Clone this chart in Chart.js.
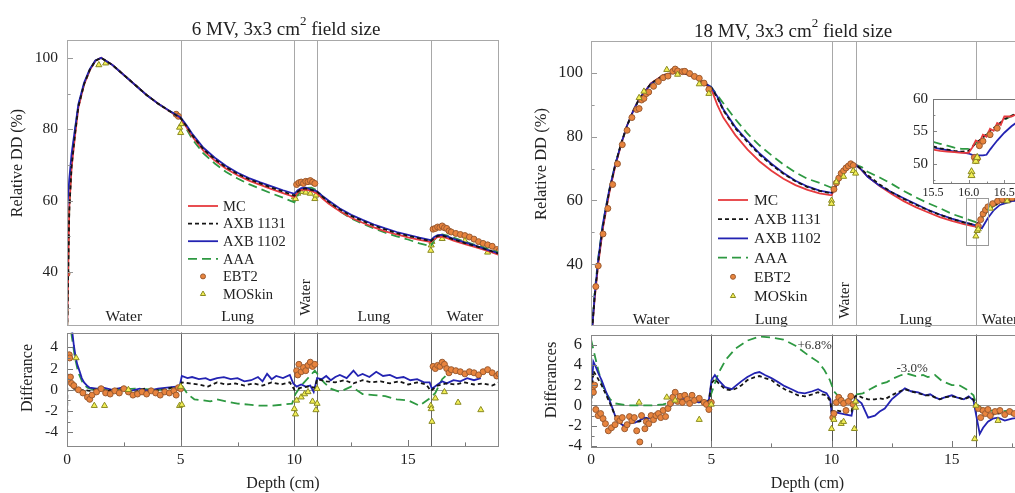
<!DOCTYPE html>
<html><head><meta charset="utf-8">
<script src="https://cdn.jsdelivr.net/npm/chart.js@4.4.1/dist/chart.umd.min.js"></script>
<style>
html,body{margin:0;padding:0;width:1015px;height:493px;overflow:hidden;background:#fff;}
canvas{position:absolute;}
.ttl{position:absolute;font-family:'Liberation Serif',serif;font-size:19px;color:#222;white-space:nowrap;transform:translate(-50%,-50%);line-height:1;}
.ttl sup{font-size:13px;position:relative;top:-10px;vertical-align:baseline;}
</style></head><body>
<canvas id="lt" width="505" height="330" style="left:0;top:0"></canvas>
<canvas id="lb" width="505" height="165" style="left:0;top:328px"></canvas>
<canvas id="rt" width="540" height="330" style="left:505px;top:0"></canvas>
<canvas id="rb" width="540" height="163" style="left:505px;top:330px"></canvas>
<canvas id="ins" width="150" height="115" style="left:895px;top:90px"></canvas>
<div class="ttl" style="left:286px;top:28px">6 MV, 3x3 cm<sup>2</sup> field size</div>
<div class="ttl" style="left:793px;top:30px">18 MV, 3x3 cm<sup>2</sup> field size</div>
<script>
// ---------- 6 MV depth dose ----------
const depth6 = [0,0.1,0.2,0.35,0.5,0.75,1,1.25,1.5,2,2.5,3,3.5,4,4.5,5,5.25,5.5,6,6.5,7,7.5,8,8.5,9,9.5,10,10.15,10.3,10.5,10.75,11,11.25,11.5,12,12.5,13,13.5,14,14.5,15,15.5,16,16.15,16.3,16.5,16.75,17,17.5,18,18.5,19];
const mc6 = [20,58,69,78,86,92.5,96.5,99.2,100,98,95.2,92.4,89.6,87.2,85.1,83,80.6,78,74,71.2,68.9,67.1,65.6,64.4,63.2,62.1,61.0,62.2,63.0,63.1,62.7,62.0,60.5,59.2,57.0,55.2,53.8,52.5,51.4,50.5,49.7,49.0,48.4,49.2,49.8,49.9,49.4,48.8,47.8,46.9,45.9,44.8];
const axb1131_6 = [20,57,69.5,78.5,86.3,92.6,96.6,99.2,100,98,95.2,92.4,89.6,87.2,85.1,83.1,80.9,78.4,74.4,71.6,69.3,67.5,66,64.8,63.6,62.5,61.4,62.5,63.2,63.4,63,62.5,61,59.7,57.5,55.7,54.3,53,51.9,50.9,50.1,49.4,48.6,49.5,50.1,50.2,49.7,49.1,48.1,47.2,46.2,45.1];
const axb1102_6 = [57,66,73,80,87,93,96.8,99.3,100,98,95.2,92.4,89.6,87.2,85.2,83.3,81.2,78.8,74.8,72,69.7,67.8,66.3,65.1,64,62.9,61.9,62.9,63.5,63.6,63.1,62.6,61.2,60,57.8,56,54.6,53.3,52.2,51.2,50.4,49.6,48.9,49.8,50.3,50.4,49.9,49.3,48.3,47.3,46.2,45.2];
const aaa6 = [20,58,71,79.5,86.5,92.5,96.5,99.2,100,98,95.2,92.4,89.6,87.2,85.1,83.2,80.2,77.3,73.2,70.4,68,66.2,64.6,63.3,62,60.8,59.5,61.5,63,63.5,63.6,62.8,61,59.4,57,55,53.5,52.2,51,50,49.1,48,47.2,49,50,50.5,50.2,49.6,48.5,47.5,46.5,45.5];
const ebt6X = [0,4.8,4.9,10.1,10.2,10.3,10.4,10.5,10.6,10.7,10.8,10.9,16.1,16.2,16.3,16.4,16.5,16.6,16.7,16.8,16.9,17.1,17.3,17.5,17.7,17.9,18.1,18.3,18.5,18.7,18.9,19.0];
const ebt6Y = [39.5,84.2,83.6,64.5,65,65.2,64.8,65.4,65.3,65.6,65.2,64.8,52,52.2,52.6,52.5,52.9,52.4,52.2,51.5,51.2,50.8,50.5,50.2,49.8,49.2,48.5,48,47.6,47.2,46.3,45.8];
const mos6X = [1.4,1.7,4.95,5.0,5.05,10.0,10.05,10.15,10.3,10.5,10.7,10.9,10.95,16.0,16.02,16.05,16.5,17.5,18.5];
const mos6Y = [98,98.5,80.5,79,81.5,61,60.5,62,62.5,62.3,62,60.5,61.5,46,47.5,48.5,49.3,48.7,45.5];
// ---------- 6 MV differences ----------
const blue6dX = [0.15,0.23,0.3,0.38,0.45,0.53,0.65,0.75,0.9,1.0,1.3,1.6,2.0,2.4,2.8,3.2,3.6,4.0,4.4,4.8,4.95,5.05,5.3,5.5,5.8,6.1,6.3,6.6,6.9,7.2,7.5,7.8,8.1,8.4,8.6,8.8,9.0,9.2,9.5,9.8,9.95,10.1,10.3,10.5,10.7,10.85,11.0,11.2,11.4,11.6,11.8,12.0,12.3,12.6,12.8,13.0,13.3,13.6,13.9,14.2,14.5,14.8,15.1,15.4,15.7,15.95,16.05,16.3,16.5,16.7,17.0,17.3,17.6,17.9,18.2];
const blue6dY = [8,5.5,4.2,3.1,2.4,1.9,1.1,0.7,0.35,0.2,0.1,0.2,0.0,0.2,-0.1,0.1,-0.1,0.1,0.2,0.3,0.3,1.3,1.1,1.2,1.0,1.1,0.9,1.1,1.2,1.0,1.1,0.8,0.9,1.2,0.8,1.5,1.0,1.3,1.1,1.4,0.6,0.3,0.5,0.3,0.4,-0.2,1.1,1.0,1.3,0.9,1.2,1.4,1.1,1.8,1.3,1.5,1.2,1.7,1.3,1.4,1.1,1.2,0.9,1.0,0.7,0.7,0.1,0.5,0.8,0.6,0.9,0.8,1.1,0.9,1.1];
const black6dX = [0,0.02,0.08,0.15,0.3,0.6,1.0,1.4,1.8,2.2,2.6,3.0,3.4,3.8,4.2,4.6,4.95,5.05,5.4,5.8,6.2,6.6,7.0,7.4,7.8,8.2,8.6,9.0,9.4,9.8,10.0,10.3,10.6,10.9,11.0,11.4,11.8,12.2,12.6,13.0,13.4,13.8,14.2,14.6,15.0,15.4,15.8,16.0,16.3,16.7,17.1,17.5,17.9,18.3,18.7,19.0];
const black6dY = [-4.8,1.6,1.2,0.6,0.1,0.0,-0.1,0.1,-0.1,0.1,0.0,-0.2,0.1,-0.1,0.0,0.2,0.3,0.7,0.6,0.5,0.3,0.7,0.5,0.6,0.4,0.6,0.4,0.7,0.5,0.7,0.0,0.2,0.3,0.2,1.0,0.8,0.7,0.9,0.6,0.9,0.7,0.8,0.6,0.8,0.5,0.7,0.5,-0.1,0.4,0.6,0.5,0.7,0.5,0.6,0.4,0.7];
const green6dX = [0.05,0.2,0.35,0.5,0.7,0.9,1.2,2.0,3.0,4.0,4.9,5.05,5.3,5.6,6.0,6.3,6.6,7.0,7.5,8.0,8.5,9.0,9.5,9.9,10.05,10.3,10.6,10.9,11.05,11.3,11.6,12.0,12.5,13.0,13.5,14.0,14.5,15.0,15.5,15.9,16.2,16.5,16.9];
const green6dY = [8,5.2,3.0,1.6,0.6,0.2,0.0,0.0,0.1,0.0,0.2,0.4,-0.4,-0.9,-1.0,-1.1,-0.9,-1.1,-1.3,-1.4,-1.5,-1.5,-1.4,-1.3,-0.4,0.4,1.1,1.8,1.4,0.7,0.1,-0.2,0.3,-0.4,-0.5,-0.6,-0.9,-1.0,-1.5,-0.9,-0.3,1.0,1.8];
const ebt6dX = [0.05,0.1,0.12,0.15,0.2,0.3,0.5,0.7,0.9,1.0,1.1,1.3,1.5,1.7,1.9,2.1,2.3,2.5,2.7,2.9,3.1,3.3,3.5,3.7,3.9,4.1,4.3,4.5,4.7,4.8,4.9,5.0,10.1,10.15,10.2,10.3,10.4,10.5,10.6,10.7,10.8,10.9,16.1,16.2,16.3,16.4,16.5,16.6,16.7,16.8,16.9,17.1,17.3,17.5,17.7,17.9,18.1,18.3,18.5,18.7,18.9,19.0];
const ebt6dY = [1.0,3.3,3.0,1.2,0.6,0.4,0.0,-0.3,-0.7,-0.9,-0.5,-0.2,0.1,-0.3,-0.4,-0.1,-0.3,0.1,-0.2,-0.5,-0.4,-0.2,-0.4,-0.1,-0.3,-0.5,-0.2,-0.3,-0.1,-0.5,0.2,0.1,1.8,1.4,2.4,1.7,2.1,1.8,2.3,2.6,2.2,2.4,2.2,2.0,2.3,2.2,2.6,2.4,2.0,1.6,1.9,1.8,1.7,1.5,1.7,1.6,1.4,1.7,1.9,1.6,1.3,1.5];
const mos6dX = [0.4,1.2,1.65,2.7,4.95,5.0,5.05,10.0,10.05,10.1,10.3,10.45,10.6,10.8,10.95,11.0,11.0,16.0,16.02,16.05,16.2,16.6,17.2,18.2];
const mos6dY = [3.0,-1.5,-1.5,0.0,-1.5,0.3,-1.4,-1.8,-2.3,-1.0,-0.7,-0.4,-0.2,-1.1,-1.9,-1.3,0.1,-1.5,-1.8,-3.0,-0.8,-0.2,-1.2,-1.9];
// ---------- 18 MV depth dose ----------
const depth18 = [0,0.15,0.3,0.5,0.75,1,1.25,1.5,1.75,2,2.5,3,3.5,4,4.5,5,5.25,5.5,6,6.5,7,7.5,8,8.5,9,9.5,10,10.25,10.5,10.75,11,11.25,11.5,12,12.5,13,13.5,14,14.5,15,15.5,16,16.25,16.5,16.75,17,17.5,18];
const mc18 = [15,29,40,51.5,62,70.5,77.5,83.5,88,91.8,96.8,99.3,100.2,99.5,97.8,95,90,86,80.5,76,72.3,69.3,66.8,64.8,63.3,62.2,61.6,65.5,69,71,71.3,69.5,67.5,64.5,62,59.8,57.9,56.3,54.8,53.6,52.6,51.8,55,57.3,58.8,59.6,60.4,60.5];
const axb1131_18 = [15,29.5,40.5,52,62.5,71,77.8,83.5,88,91.8,96.7,99.2,100.2,99.6,97.9,95.3,92.3,88.3,82.6,78.4,74.4,71.2,68.4,66,64.2,63,62.2,65.8,69.2,71,71.2,69.8,67.9,65,62.6,60.5,58.7,57,55.5,54.2,53.1,52.3,54.5,57,58.5,59.3,60.1,60.3];
const axb1102_18 = [15,30,41.5,53,63,71,77.8,83.5,88,91.8,96.6,99.1,100.2,99.6,98,95.5,92.6,88.6,83,78.8,74.8,71.5,68.6,66.2,64.4,63.1,62.4,65.2,68.8,70.8,71.2,69.6,67.4,64.6,62.6,60.7,58.9,57.1,55.6,54.3,53.2,52.2,51.3,54.5,57,58.6,59.8,60.1];
const aaa18 = [15,31,42,53,63,71,77.6,83.4,88,91.8,96.7,99.3,100.3,99.8,98.1,95.5,93,90.5,85.5,81,77.3,74.2,71.3,68.8,66.8,65.5,64.0,66.5,69.5,71,71.2,70.5,69,67.2,65.2,63.0,61.0,59.2,57.6,55.8,54.5,53.2,54.5,56.8,58.3,59.2,60,60.3];
const ebt18X = [0.2,0.3,0.5,0.7,0.9,1.1,1.3,1.5,1.7,1.9,2.0,2.1,2.2,2.3,2.4,2.6,2.8,3.0,3.2,3.4,3.5,3.6,3.8,3.9,4.1,4.3,4.5,4.7,4.9,10.1,10.2,10.3,10.4,10.5,10.6,10.7,10.8,10.9,16.1,16.2,16.3,16.4,16.5,16.7,16.9,17.1,17.3,17.5];
const ebt18Y = [33,39.5,49.5,57.5,65,71.5,77.5,82,86,88.5,88.8,91.5,92,93.5,94,95.8,97.3,98.5,99,100.5,101.2,100.6,100.4,100.5,99.8,98.9,98.3,96.8,94.8,63.5,65.5,67,68.5,69.3,70.2,70.8,71.5,71,52,54,55.8,57,58,59,59.8,60.3,60.6,60.8];
const mos18X = [2.0,2.2,3.15,3.6,4.5,4.9,10.0,10.0,10.2,10.5,10.9,11.0,16.0,16.05,16.1,16.6,17.3];
const mos18Y = [92.2,94.2,101.0,99.5,96.5,93.5,60,59,65.8,67.5,69.3,68.5,48.8,50.5,51.0,57.5,59.8];
// ---------- 18 MV differences ----------
const diff18X = [0,0.05,0.1,0.2,0.3,0.44,0.6,0.79,1.0,1.15,1.34,1.5,1.83,2.0,2.24,2.45,2.66,2.85,3.07,3.3,3.49,3.7,3.9,4.1,4.3,4.46,4.7,4.9,5.01,5.15,5.3,5.57,5.85,6.05,6.26,6.5,6.81,7.0,7.23,7.5,7.78,8.05,8.34,8.6,8.89,9.2,9.44,9.6,9.79,9.95,10.0,10.2,10.42,10.6,10.83,10.97,11.1,11.25,11.52,11.8,12.0,12.21,12.5,12.75,13.05,13.3,13.6,13.9,14.1,14.3,14.5,14.7,15.0,15.2,15.5,15.7,15.9,15.95,16.16,16.3,16.5,16.7,16.92,17.2,17.5,17.8,18.0];
const blue18dY = [1.0,2.5,4.3,3.8,3.2,2.5,1.5,0.4,-1.0,-1.6,-2.0,-1.8,-1.7,-1.5,-1.2,-1.3,-0.9,-0.7,-0.5,-0.1,0.4,0.6,0.65,0.4,0.5,0.3,0.4,0.5,2.5,3.0,2.5,1.8,1.6,2.0,2.4,2.8,3.2,3.3,3.0,2.7,2.3,1.9,1.6,1.3,1.2,1.4,1.6,1.4,1.2,0.6,-0.8,-0.7,-0.8,-0.9,-1.0,0.7,0.5,0.2,-1.2,-1.0,-0.6,-0.3,0.6,1.1,1.7,1.4,1.3,1.0,1.1,0.8,0.6,0.8,1.0,0.8,0.6,0.9,0.5,-0.2,-2.8,-2.2,-1.6,-1.3,-1.2,-1.5,-1.3,-1.2,-1.1];
const black18dY = [0.0,1.5,3.4,3.0,2.6,2.0,1.2,0.2,-1.0,-1.5,-2.0,-1.9,-1.6,-1.6,-1.4,-1.1,-1.0,-0.8,-0.4,0.0,0.5,0.6,0.5,0.5,0.3,0.4,0.3,0.4,2.2,2.6,2.2,1.6,1.5,1.7,2.0,2.5,2.8,2.9,2.7,2.5,2.0,1.6,1.3,1.0,0.9,1.1,1.3,1.1,1.0,0.4,-0.6,-0.5,-0.6,-0.6,-0.6,0.9,1.0,0.8,0.6,0.6,0.7,0.6,1.0,1.3,1.6,1.4,1.2,1.0,1.0,0.8,0.6,0.8,0.9,0.8,0.6,0.8,0.6,0.0,-0.5,-0.8,-0.6,-0.9,-0.8,-0.7,-0.9,-0.7,-0.8];
const green18dX = [0,0.1,0.3,0.45,0.6,0.8,1.0,1.5,2.0,2.5,3.0,3.5,4.0,4.5,4.9,5.05,5.3,5.6,6.0,6.5,7.0,7.5,8.0,8.5,9.0,9.44,9.7,9.93,10.1,10.4,10.7,10.9,11.05,11.3,11.6,12.0,12.3,12.6,12.9,13.2,13.5,13.8,14.0,14.3,14.6,15.0,15.3,15.6,15.9,16.0,16.3,16.6,17.0,17.5,18.0];
const green18dY = [6.5,5.5,3.5,2.2,1.3,0.6,0.2,0.0,0.0,0.0,0.1,0.4,0.5,0.3,0.5,1.5,3.2,4.5,5.6,6.4,6.8,6.7,6.5,5.9,5.0,4.3,3.5,2.5,1.4,0.6,0.4,0.8,1.1,1.2,1.6,2.1,2.3,2.7,3.0,3.1,2.9,3.0,2.8,3.0,2.4,2.0,2.0,1.6,1.0,0.2,-0.4,-0.5,-0.6,-0.5,-0.5];
const ebt18dX = [0.05,0.1,0.15,0.2,0.3,0.4,0.5,0.6,0.72,0.85,1.0,1.1,1.2,1.3,1.4,1.5,1.6,1.7,1.8,1.9,2.03,2.1,2.24,2.3,2.4,2.5,2.6,2.7,2.8,2.9,3.0,3.1,3.2,3.3,3.4,3.5,3.6,3.7,3.8,3.9,4.0,4.1,4.2,4.3,4.5,4.7,4.8,4.9,5.0,10.05,10.1,10.2,10.3,10.4,10.5,10.6,10.7,10.8,10.9,16.1,16.2,16.3,16.4,16.5,16.6,16.8,17.0,17.2,17.4,17.6,17.8,18.0];
const ebt18dY = [1.6,1.3,2.0,-0.4,-1.0,-0.8,-1.3,-1.8,-2.5,-2.2,-1.9,-1.3,-1.5,-1.2,-2.3,-1.9,-1.1,-1.5,-1.2,-2.5,-3.6,-1.0,-2.3,-1.6,-1.8,-1.0,-1.4,-1.0,-0.8,-1.2,-0.5,-1.1,-0.3,0.2,0.8,1.3,0.4,0.9,0.3,1.0,0.6,0.2,1.0,0.5,0.7,0.3,0.1,-0.4,0.3,-1.2,-0.8,0.3,0.8,0.5,0.2,-0.5,0.4,0.9,0.1,-0.3,-1.2,-0.5,-0.8,-0.4,-1.0,-0.6,-0.5,-0.9,-0.6,-0.8,-0.6,-0.9];
const mos18dX = [2.0,3.15,3.5,4.5,5.0,10.0,10.1,10.4,10.5,10.95,11.0,11.0,15.95,16.0,16.92];
const mos18dY = [0.3,0.8,0.5,-1.4,0.1,-2.3,-1.4,-1.8,-1.6,-2.3,-0.2,0.4,-3.3,0.0,-1.5];
// ---------- 18 MV inset (15.5 - 17 cm) ----------
const insetDepth = [15.5,15.6,15.7,15.8,15.9,16.0,16.05,16.1,16.15,16.2,16.25,16.3,16.35,16.4,16.45,16.5,16.6,16.7,16.8,17.0];
const insetMC = [52.2,52.0,51.9,51.8,51.7,51.7,52.5,53.6,53.3,54.5,54.2,55.4,55.1,56.3,56.0,57.3,57.3,57.8,58.3,59.0];
const insetAXB1131 = [52.7,52.4,52.2,52.0,51.9,52.0,52.6,53.2,53.6,54.1,54.6,55.1,55.5,56.0,56.4,56.9,57.4,57.9,58.3,59.0];
const insetAXB1102 = [52.5,52.3,52.1,51.9,51.8,51.6,51.4,51.3,51.3,51.3,51.4,52.2,52.9,53.6,54.2,54.8,55.8,56.6,57.3,58.5];
const insetAAA = [53.4,53.1,52.8,52.5,52.3,52.3,52.7,53.2,53.6,54.0,54.5,55.0,55.4,55.9,56.3,56.8,57.4,57.9,58.3,59.0];
const insetEbtX = [16.08,16.1,16.12,16.15,16.2,16.3,16.4];
const insetEbtY = [51.0,50.5,50.8,52.8,53.5,54.5,55.5];
const insetMosX = [16.04,16.04,16.1,16.12];
const insetMosY = [48.8,48.2,50.4,51.0];
// ---------- tick labels ----------
const xTicks = [0,5,10,15];
const dd6Ticks = [40,60,80,100];
const diff6Ticks = [-4,-2,0,2,4];
const dd18Ticks = [40,60,80,100];
const diff18Ticks = [-4,-2,0,2,4,6];
const insetYTicks = [50,55,60];
const insetXTicks = [15.5,16.0,16.5];
const boundaries = [5,10,11,16];
const legendOrder = ['MC','AXB 1131','AXB 1102','AAA','EBT2','MOSkin'];

const FONT = "'Liberation Serif', serif";
Chart.defaults.font.family = FONT;
Chart.defaults.color = '#222';

const COL = {mc:'#e63a3e', a31:'#151515', a02:'#2323b2', aaa:'#2e9942', ebtF:'#e8843e', ebtE:'#9a5a30', mosF:'#f3ef55', mosE:'#8a8a22'};
function L(label, xs, ys, color, dash){
  return {label, data: xs.map((x,i)=>({x, y: ys[i]})), showLine:true, borderColor:color, backgroundColor:color,
    borderWidth:1.8, borderDash:dash||[], pointRadius:0, pointHoverRadius:0, fill:false, tension:0};
}
function P(label, xs, ys, style, r, fill, edge){
  return {label, data: xs.map((x,i)=>({x, y: ys[i]})), showLine:false, pointStyle:style, pointRadius:r,
    pointHoverRadius:r, backgroundColor:fill, borderColor:edge, pointBorderWidth:1, borderWidth:1};
}
const D31 = [4,3], DAAA = [9,5];

const DECO = {};
const decoPlugin = {
  id:'deco',
  beforeDraw(chart){
    const o = DECO[chart.canvas.id]; if (!o) return;
    const {ctx, chartArea:a} = chart;
    if (o.bg){ ctx.save(); ctx.fillStyle='#fff';
      ctx.fillRect(a.left, a.top, a.right-a.left, a.bottom-a.top);
      ctx.fillRect(a.left-2, a.bottom, a.right-a.left+2, 14); ctx.restore(); }
  },
  beforeDatasetsDraw(chart){
    const o = DECO[chart.canvas.id]; if (!o) return;
    const {ctx, chartArea:a, scales:{x,y}} = chart;
    ctx.save(); ctx.lineWidth = 1;
    if (o.zero){ ctx.strokeStyle=o.zero; const py=Math.round(y.getPixelForValue(0))+0.5;
      ctx.beginPath(); ctx.moveTo(a.left,py); ctx.lineTo(a.right,py); ctx.stroke(); }
    ctx.strokeStyle = o.vColor||'#999';
    (o.vlines||[]).forEach(v=>{ const px=Math.round(x.getPixelForValue(v))+0.5;
      ctx.beginPath(); ctx.moveTo(px,a.top); ctx.lineTo(px,a.bottom); ctx.stroke(); });
    if (o.regions){
      ctx.fillStyle='#222'; ctx.font = o.regionSize+'px '+FONT;
      o.regions.forEach(r=>{
        const px = x.getPixelForValue(r.x);
        if (r.rot){ ctx.save(); ctx.translate(px, a.bottom - o.rotDy); ctx.rotate(-Math.PI/2);
          ctx.textAlign='center'; ctx.textBaseline='middle'; ctx.fillText(r.t,0,0); ctx.restore(); }
        else { ctx.textAlign='center'; ctx.textBaseline='alphabetic'; ctx.fillText(r.t, px, a.bottom - o.regionDy); }
      });
    }
    ctx.restore();
  },
  afterDatasetsDraw(chart){
    const o = DECO[chart.canvas.id]; if (!o) return;
    const {ctx, chartArea:a, scales:{x,y}} = chart;
    ctx.save(); ctx.lineWidth=1;
    ctx.strokeStyle = o.tickColor||'#777';
    const tl = o.tl||6;
    const hy = (v,len)=>{ const py=Math.round(y.getPixelForValue(v))+0.5; ctx.beginPath(); ctx.moveTo(a.left,py); ctx.lineTo(a.left+len,py); ctx.stroke(); };
    const vx = (v,len)=>{ const px=Math.round(x.getPixelForValue(v))+0.5; ctx.beginPath(); ctx.moveTo(px,a.bottom); ctx.lineTo(px,a.bottom-len); ctx.stroke(); };
    (o.yMajor||[]).forEach(v=>hy(v,tl)); (o.yMinor||[]).forEach(v=>hy(v,tl*0.6));
    (o.xMajor||[]).forEach(v=>vx(v,tl)); (o.xMinor||[]).forEach(v=>vx(v,tl*0.6));
    ctx.strokeStyle = o.box||'#999';
    ctx.strokeRect(Math.round(a.left)+0.5, Math.round(a.top)+0.5, Math.round(a.right-a.left)-1, Math.round(a.bottom-a.top)-1);
    if (o.rect){ const r=o.rect; ctx.strokeStyle='#999';
      const x0=x.getPixelForValue(r.x0), x1=x.getPixelForValue(r.x1), y0=y.getPixelForValue(r.y0), y1=y.getPixelForValue(r.y1);
      ctx.strokeRect(Math.round(x0)+0.5, Math.round(y1)+0.5, Math.round(x1-x0), Math.round(y0-y1)); }
    (o.texts||[]).forEach(t=>{ ctx.fillStyle='#333'; ctx.font=t.size+'px '+FONT; ctx.textAlign='center'; ctx.textBaseline='middle';
      ctx.fillText(t.t, x.getPixelForValue(t.x), y.getPixelForValue(t.y)); });
    if (o.legend){
      const Lg=o.legend; ctx.font=Lg.size+'px '+FONT;
      legendOrder.forEach((lab,i)=>{
        const ds = chart.data.datasets.find(d=>d.label===lab); if(!ds) return;
        const yy = Lg.y0 + i*Lg.dy;
        if (ds.showLine){ ctx.save(); ctx.strokeStyle=ds.borderColor; ctx.lineWidth=ds.borderWidth; ctx.setLineDash(ds.borderDash||[]);
          ctx.beginPath(); ctx.moveTo(Lg.x0,yy); ctx.lineTo(Lg.x1,yy); ctx.stroke(); ctx.restore(); }
        else { ctx.save(); ctx.fillStyle=ds.backgroundColor; ctx.strokeStyle=ds.borderColor; ctx.lineWidth=1;
          Chart.helpers.drawPoint(ctx, {pointStyle:ds.pointStyle, radius:ds.pointRadius-0.5, rotation:0, borderWidth:1}, (Lg.x0+Lg.x1)/2, yy); ctx.restore(); }
        ctx.fillStyle='#222'; ctx.textAlign='left'; ctx.textBaseline='middle'; ctx.fillText(lab, Lg.tx, yy+1);
      });
    }
    if (o.ytitle){ const t=o.ytitle; ctx.save(); ctx.translate(t.x,t.y); ctx.rotate(-Math.PI/2);
      ctx.font=t.size+'px '+FONT; ctx.fillStyle='#222'; ctx.textAlign='center'; ctx.textBaseline='middle'; ctx.fillText(t.t,0,0); ctx.restore(); }
    ctx.restore();
  }
};

function noPad(s){ s.paddingTop=0; s.paddingBottom=0; s.paddingLeft=0; s.paddingRight=0; }
function make(id, c){
  return new Chart(document.getElementById(id), {
    type:'scatter',
    data:{datasets:c.datasets},
    options:{
      responsive:false, animation:false, devicePixelRatio:1,
      layout:{padding:c.pad},
      plugins:{legend:{display:false}, tooltip:{enabled:false}},
      scales:{
        x:{type:'linear', min:c.xmin, max:c.xmax, bounds:'data', display:c.showX,
           grid:{display:false, drawTicks:false}, border:{display:false},
           afterBuildTicks:s=>{ s.ticks=(c.xTicks||[]).map(v=>({value:v})); },
           afterFit:s=>{ s.height=c.xHeight||0; noPad(s); },
           ticks:{font:{size:c.xTickSize||15.5}, color:'#222', padding:c.xPad||5, maxRotation:0, autoSkip:false,
                  callback:v=> c.xFixed ? Number(v).toFixed(1) : String(v)},
           title:{display:!!c.xTitle, text:c.xTitle||'', font:{size:16}, color:'#222', padding:{top:0,bottom:0}}},
        y:{type:'linear', min:c.ymin, max:c.ymax, bounds:'data',
           grid:{display:false, drawTicks:false}, border:{display:false},
           afterBuildTicks:s=>{ s.ticks=c.yTicks.map(v=>({value:v})); },
           afterFit:s=>{ s.width=c.yWidth; noPad(s); },
           ticks:{font:{size:c.yTickSize||15.5}, color:'#222', padding:c.yPad||9, autoSkip:false, callback:v=>String(v)}}
      }
    },
    plugins:[decoPlugin]
  });
}

// ----- left top -----
DECO.lt = {box:'#a8a8a8', vlines:boundaries, vColor:'#a8a8a8', yMajor:[40,60,80,100], yMinor:[30,50,70,90], tl:6, tickColor:'#999',
  regions:[{t:'Water',x:2.5},{t:'Lung',x:7.5},{t:'Water',x:10.5,rot:true},{t:'Lung',x:13.5},{t:'Water',x:17.5}], regionSize:15.5, regionDy:5, rotDy:28,
  legend:{x0:188,x1:218,tx:223,y0:206,dy:17.6,size:14.5}, ytitle:{t:'Relative DD (%)',x:18,y:163,size:16}};
make('lt', {xmin:0,xmax:19,showX:false, ymin:25,ymax:105, yTicks:dd6Ticks, yWidth:67, yPad:9, yTickSize:15.5,
  pad:{top:40,right:6,bottom:2,left:0},
  datasets:[L('AXB 1131',depth6,axb1131_6,COL.a31,D31), L('AXB 1102',depth6,axb1102_6,COL.a02), L('MC',depth6,mc6,COL.mc), L('AAA',depth6,aaa6,COL.aaa,DAAA),
    P('MOSkin',mos6X,mos6Y,'triangle',3.5,COL.mosF,COL.mosE), P('EBT2',ebt6X,ebt6Y,'circle',3,COL.ebtF,COL.ebtE)]});

// ----- left bottom -----
DECO.lb = {box:'#888', zero:'#999', vlines:boundaries, vColor:'#666', yMajor:diff6Ticks, yMinor:[-3,-1,1,3], xMajor:xTicks, xMinor:[2.5,7.5,12.5,17.5], tl:6, tickColor:'#777',
  ytitle:{t:'Differance',x:28,y:50,size:16}};
make('lb', {xmin:0,xmax:19,showX:true, xTicks:xTicks, xHeight:47, xPad:5, xTitle:'Depth (cm)', ymin:-5.3,ymax:5.4, yTicks:diff6Ticks, yWidth:67, yPad:9, yTickSize:15.5,
  pad:{top:2,right:6,bottom:0,left:0},
  datasets:[P('MOSkin',mos6dX,mos6dY,'triangle',3.5,COL.mosF,COL.mosE), P('EBT2',ebt6dX,ebt6dY,'circle',3,COL.ebtF,COL.ebtE),
    L('AXB 1131',black6dX,black6dY,COL.a31,D31), L('AXB 1102',blue6dX,blue6dY,COL.a02), L('AAA',green6dX,green6dY,COL.aaa,DAAA)]});

// ----- right top -----
DECO.rt = {box:'#a8a8a8', vlines:boundaries, vColor:'#a8a8a8', yMajor:[40,60,80,100], yMinor:[30,50,70,90], tl:6, tickColor:'#999',
  regions:[{t:'Water',x:2.5},{t:'Lung',x:7.5},{t:'Water',x:10.55,rot:true},{t:'Lung',x:13.5},{t:'Water',x:17}], regionSize:15.5, regionDy:2, rotDy:25,
  legend:{x0:213,x1:243,tx:249,y0:200,dy:19.2,size:15.5}, ytitle:{t:'Relative DD (%)',x:37,y:164,size:16.5},
  rect:{x0:15.6,x1:16.5,y0:46.3,y1:60.9}};
make('rt', {xmin:0,xmax:18,showX:false, ymin:20.8,ymax:110, yTicks:dd18Ticks, yWidth:86, yPad:8, yTickSize:16.5,
  pad:{top:41,right:21,bottom:2,left:0},
  datasets:[P('MOSkin',mos18X,mos18Y,'triangle',3.5,COL.mosF,COL.mosE), P('EBT2',ebt18X,ebt18Y,'circle',3,COL.ebtF,COL.ebtE),
    L('AXB 1131',depth18,axb1131_18,COL.a31,D31), L('AXB 1102',depth18,axb1102_18,COL.a02), L('MC',depth18,mc18,COL.mc), L('AAA',depth18,aaa18,COL.aaa,DAAA)]});

// ----- right bottom -----
DECO.rb = {box:'#888', zero:'#999', vlines:boundaries, vColor:'#555', yMajor:diff18Ticks, yMinor:[-3,-1,1,3,5], xMajor:xTicks, xMinor:[2.5,7.5,12.5,17.5], tl:6, tickColor:'#777',
  ytitle:{t:'Differances',x:47,y:50,size:16.5},
  texts:[{t:'+6.8%',x:9.3,y:5.95,size:13},{t:'-3.0%',x:13.35,y:3.6,size:13}]};
make('rb', {xmin:0,xmax:18,showX:true, xTicks:xTicks, xHeight:46, xPad:4, xTitle:'Depth (cm)', ymin:-4.1,ymax:7.0, yTicks:diff18Ticks, yWidth:86, yPad:9, yTickSize:16.5,
  pad:{top:2,right:21,bottom:0,left:0},
  datasets:[P('MOSkin',mos18dX,mos18dY,'triangle',3.5,COL.mosF,COL.mosE), P('EBT2',ebt18dX,ebt18dY,'circle',3,COL.ebtF,COL.ebtE),
    L('AXB 1131',diff18X,black18dY,COL.a31,D31), L('AXB 1102',diff18X,blue18dY,COL.a02), L('AAA',green18dX,green18dY,COL.aaa,DAAA)]});

// ----- inset -----
DECO.ins = {bg:true, box:'#777', yMajor:insetYTicks, yMinor:[47.5,52.5,57.5], xMajor:insetXTicks, xMinor:[15.75,16.25,16.75], tl:4, tickColor:'#888'};
make('ins', {xmin:15.5,xmax:17.0,showX:true, xTicks:insetXTicks, xFixed:true, xHeight:21, xPad:2, xTickSize:12, ymin:46.9,ymax:60, yTicks:insetYTicks, yWidth:38, yPad:5, yTickSize:15,
  pad:{top:9,right:1,bottom:0,left:0},
  datasets:[P('MOSkin',insetMosX,insetMosY,'triangle',4,COL.mosF,COL.mosE), P('EBT2',insetEbtX,insetEbtY,'circle',3,COL.ebtF,COL.ebtE),
    L('MC',insetDepth,insetMC,COL.mc), L('AXB 1131',insetDepth,insetAXB1131,COL.a31,D31), L('AXB 1102',insetDepth,insetAXB1102,COL.a02), L('AAA',insetDepth,insetAAA,COL.aaa,DAAA)]});
</script>
</body></html>
